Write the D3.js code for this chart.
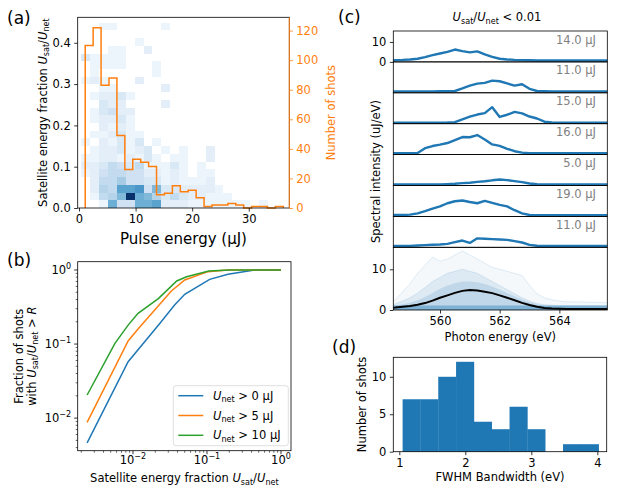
<!DOCTYPE html>
<html lang="en">
<head>
<meta charset="UTF-8" />
<title>Satellite energy fraction and spectra</title>
<script src="https://d3js.org/d3.v7.min.js"></script>
<style>
  body { margin: 0; background: #fff; }
  svg { display: block; }
  svg text { font-family: "DejaVu Sans", sans-serif; }
</style>
</head>
<body>
<svg id="fig" width="637" height="492"></svg>
<script>
// ---------- (a) pulse energy histogram + 2D histogram ----------
const shotEdges = [1.1, 2.5, 3.9, 5.3, 6.7, 8.1, 9.5, 10.9, 12.3, 13.7, 15.1, 16.5, 17.9,
  19.3, 20.7, 22.1, 23.5, 24.9, 26.3, 27.7, 29.1, 30.5, 31.9, 33.3, 34.7, 36.1];
const shotCounts = [110, 122, 83, 88, 49, 26, 33, 31, 28, 9, 10, 15, 11, 12, 7, 1, 2, 2, 3, 2, 0, 1, 1, 0, 1];

// 2D histogram cells: rows from bottom (U_sat/U_net bins), columns (pulse energy bins)
const heatX0 = 0.41, heatDX = 1.57, heatDY = 0.0187, heatMax = 20;
const heatCounts = [
  [0, 0, 1, 10, 4, 4, 10, 10, 11, 2, 2, 2, 1, 1, 1, 1, 1, 1, 1, 0, 1],
  [0, 1, 5, 6, 9, 20, 10, 9, 6, 3, 5, 3, 2, 2, 1, 1, 1],
  [0, 2, 6, 5, 11, 11, 12, 4, 9, 3, 3, 2, 2, 2, 2, 1],
  [0, 2, 5, 5, 7, 4, 4, 3, 3, 1, 2, 1, 1, 1, 2],
  [1, 2, 4, 5, 5, 4, 4, 2, 2, 1, 2, 1, 0, 1, 1],
  [2, 2, 3, 5, 4, 3, 5, 1, 1, 1, 3, 1, 0, 1],
  [1, 1, 2, 2, 1, 2, 1, 3, 1, 0, 1, 1, 0, 0, 2],
  [0, 1, 2, 2, 3, 1, 2, 3, 0, 1, 0, 1, 0, 0, 2],
  [1, 0, 2, 1, 3, 1, 3, 0, 1],
  [0, 1, 1, 2, 3, 1, 1],
  [0, 0, 2, 1, 2, 1],
  [0, 1, 2, 2, 3, 1],
  [0, 1, 3, 4, 2, 2],
  [0, 0, 3, 2, 2, 0, 0, 0, 0, 2],
  [0, 1, 2, 2, 3, 1],
  [0, 0, 1, 1, 0, 0, 0, 0, 0, 2],
  [1, 2, 1, 0, 0, 0, 2],
  [0, 1, 0, 0, 0, 0, 0, 0, 1],
  [0, 1, 1, 1, 1, 0, 0, 0, 1],
  [3, 1, 1, 1, 1],
  [0, 0, 0, 1, 1, 0, 0, 2],
  [0, 0, 0, 0, 0, 0, 1],
  [],
  [0, 0, 1, 1, 0, 0, 0, 0, 0, 1]
];
const ticksA = [0, 10, 20, 30];
const ticksAy = [0, 0.1, 0.2, 0.3, 0.4];
const ticksAy2 = [0, 20, 40, 60, 80, 100, 120];

// ---------- (b) cumulative fraction curves ----------
const fracAllR = [0.0024, 0.0086, 0.023, 0.0365, 0.05, 0.1086, 0.192, 0.44, 1.0];
const fracAll = [0.00464, 0.0577, 0.19, 0.336, 0.469, 0.748, 0.875, 1.0, 1.0];
const frac5R = [0.0024, 0.0086, 0.0117, 0.033, 0.05, 0.103, 0.19, 1.0];
const frac5 = [0.00875, 0.11, 0.16, 0.52, 0.733, 0.95, 1.0, 1.0];
const frac10R = [0.0024, 0.0057, 0.0086, 0.0117, 0.022, 0.039, 0.053, 0.106, 0.2, 1.0];
const frac10 = [0.0205, 0.102, 0.18, 0.26, 0.41, 0.71, 0.81, 0.97, 1.0, 1.0];
const legendNet = ["0", "5", "10"];
const majorsB = [0.01, 0.1, 1];

// ---------- (c) single-shot spectra ----------
const specE = [558.25, 558.5, 558.75, 559.0, 559.25, 559.5, 559.75, 560.0, 560.25, 560.5, 560.75,
  561.0, 561.25, 561.5, 561.75, 562.0, 562.25, 562.5, 562.75, 563.0, 563.25, 563.5, 563.75,
  564.0, 564.25, 564.5, 564.75, 565.0, 565.25, 565.5, 565.75];
const spec14 = [0.9, 0.9, 1.0, 1.2, 1.6, 2.4, 3.4, 4.2, 5.0, 6.2, 5.4, 4.8, 5.3, 3.8, 2.5, 1.6, 1.2, 1.0,
  0.9, 0.8, 0.7, 0.7, 0.7, 0.7, 0.7, 0.7, 0.7, 0.7, 0.7, 0.7, 0.7];
const spec11a = [0.7, 0.7, 0.7, 0.7, 0.7, 0.7, 0.7, 0.8, 0.8, 0.9, 2.2, 3.6, 4.6, 5.0, 6.1, 5.8, 4.7, 3.6,
  4.3, 2.0, 0.9, 0.8, 0.7, 0.7, 0.7, 0.7, 0.7, 0.7, 0.7, 0.7, 0.7];
const spec15 = [0.5, 0.5, 0.5, 0.5, 0.5, 0.5, 0.5, 0.5, 0.6, 0.8, 2.2, 3.5, 4.6, 5.3, 8.3, 3.4, 4.5, 5.9,
  5.2, 3.6, 2.6, 1.0, 0.6, 0.5, 0.5, 0.5, 0.5, 0.5, 0.5, 0.5, 0.5];
const spec16 = [0.7, 0.7, 0.7, 0.7, 0.8, 3.2, 4.3, 5.0, 5.8, 7.3, 8.8, 8.7, 9.8, 7.6, 5.1, 4.4, 2.9, 1.7,
  1.0, 0.7, 0.7, 0.7, 0.7, 0.7, 0.7, 0.7, 0.7, 0.7, 0.7, 0.7, 0.7];
const spec5 = [0.5, 0.5, 0.5, 0.5, 0.5, 0.5, 0.5, 0.5, 0.7, 0.9, 1.2, 1.4, 1.8, 2.1, 2.6, 3.0, 2.7, 2.2,
  1.7, 1.0, 0.6, 0.5, 0.5, 0.5, 0.5, 0.5, 0.5, 0.5, 0.5, 0.5, 0.5];
const spec19 = [0.7, 0.7, 0.7, 0.9, 1.5, 2.6, 3.9, 5.0, 6.6, 7.6, 8.0, 7.2, 6.6, 7.8, 6.8, 5.8, 5.0, 3.1,
  1.5, 0.7, 0.6, 0.6, 0.6, 0.6, 0.6, 0.6, 0.6, 0.6, 0.6, 0.6, 0.6];
const spec11b = [0.7, 0.7, 0.7, 0.7, 0.9, 1.1, 1.3, 1.4, 1.7, 2.6, 3.4, 2.2, 4.5, 4.3, 4.1, 3.9, 3.7, 3.1,
  2.4, 1.2, 0.8, 0.7, 0.7, 0.7, 0.7, 0.7, 0.7, 0.7, 0.7, 0.7, 0.7];
const specShots = [spec14, spec11a, spec15, spec16, spec5, spec19, spec11b];
const specLabels = ["14.0 μJ", "11.0 μJ", "15.0 μJ", "16.0 μJ", "5.0 μJ", "19.0 μJ", "11.0 μJ"];

// overlay of all shots: envelopes of the cloud and the mean spectrum
const cloudMax = [2.0, 2.5, 4.5, 6.5, 9.0, 11.0, 13.0, 12.0, 12.5, 13.5, 14.5, 13.5, 12.5, 11.5, 10.5,
  10.0, 9.5, 9.0, 8.5, 6.0, 4.0, 3.0, 2.5, 2.2, 2.0, 2.0, 2.0, 1.9, 1.9, 1.8, 1.8];
const cloudMid = [1.2, 1.5, 2.2, 3.0, 4.2, 5.5, 7.0, 8.0, 9.0, 9.5, 10.0, 9.5, 9.0, 8.0, 7.0, 6.0, 5.0,
  4.0, 3.0, 2.2, 1.6, 1.3, 1.2, 1.1, 1.1, 1.1, 1.1, 1.1, 1.1, 1.1, 1.1];
const cloudCore = [1.0, 1.1, 1.4, 1.8, 2.4, 3.2, 4.2, 5.2, 6.0, 6.6, 7.0, 7.0, 6.8, 6.4, 5.8, 5.0, 4.2,
  3.4, 2.6, 1.9, 1.4, 1.1, 1.0, 1.0, 1.0, 1.0, 1.0, 1.0, 1.0, 1.0, 1.0];
const specMean = [0.5, 0.6, 0.8, 1.0, 1.3, 1.7, 2.3, 3.0, 3.6, 4.2, 4.7, 4.9, 4.8, 4.5, 4.15, 3.6, 3.0,
  2.4, 1.75, 1.25, 0.8, 0.5, 0.35, 0.3, 0.25, 0.25, 0.25, 0.25, 0.25, 0.25, 0.25];
const ticksC = [560, 562, 564];

// ---------- (d) bandwidth histogram ----------
const bwEdges = [1.05, 1.32, 1.59, 1.86, 2.13, 2.40, 2.67, 2.94, 3.21, 3.48, 3.75, 4.02];
const bwCounts = [7, 7, 10, 12, 4, 3, 6, 3, 0, 1, 1];
const ticksD = [1, 2, 3, 4];
const ticksDy = [0, 5, 10];

// ---------- helpers ----------
const svg = d3.select("#fig");
const FS = 11.5;
const BLUE = "#1f77b4", ORANGE = "#ff7f0e", GREEN = "#2ca02c";
const uRatio = [{ t: "U", i: 1 }, { t: "sat", sub: 1 }, { t: "/" }, { t: "U", i: 1 }, { t: "net", sub: 1 }];

function rich(sel, parts, fs) {
  let off = 0;
  parts.forEach((p) => {
    const target = p.sub ? fs * 0.22 : p.sup ? -fs * 0.42 : 0;
    const ts = sel.append("tspan").attr("dy", target - off).text(p.t);
    off = target;
    if (p.i) ts.attr("font-style", "italic");
    if (p.sub || p.sup) ts.attr("font-size", fs * 0.7);
  });
}

function label(x, y, parts, o = {}) {
  const fs = o.fs || FS;
  const t = svg.append("text")
    .attr("font-size", fs)
    .attr("text-anchor", o.anchor || "middle")
    .attr("fill", o.color || "#000");
  if (o.rot) t.attr("transform", `translate(${x},${y}) rotate(${o.rot})`);
  else t.attr("x", x).attr("y", y);
  rich(t, typeof parts === "string" ? [{ t: parts }] : parts, fs);
  return t;
}

function axis(gen, tx, ty, color = "#000") {
  const g = svg.append("g").attr("transform", `translate(${tx},${ty})`)
    .call(gen.tickSize(3.5).tickPadding(3.5));
  g.select(".domain").remove();
  g.selectAll("line").attr("stroke", color).attr("stroke-width", 0.8);
  g.selectAll("text").attr("fill", color).attr("font-size", FS);
  return g;
}

function frame(x0, y0, x1, y1) {
  svg.append("rect").attr("x", x0).attr("y", y0)
    .attr("width", x1 - x0).attr("height", y1 - y0)
    .attr("fill", "none").attr("stroke", "#000").attr("stroke-width", 0.8);
}

// ================= panel (a) =================
const A = { l: 77.7, r: 289.3, t: 17.3, b: 208 };
const xA = d3.scaleLinear().domain([-0.23, 37.16]).range([A.l, A.r]);
const yA = d3.scaleLinear().domain([0, 0.4617]).range([A.b, A.t]);
const yA2 = d3.scaleLinear().domain([0, 129]).range([A.b, A.t]);

const cells = [];
heatCounts.forEach((row, r) => row.forEach((v, c) => { if (v > 0) cells.push({ r, c, v }); }));
svg.append("g").attr("shape-rendering", "crispEdges")
  .selectAll("rect").data(cells).join("rect")
  .attr("x", (d) => xA(heatX0 + d.c * heatDX))
  .attr("width", (d) => xA(heatX0 + (d.c + 1) * heatDX) - xA(heatX0 + d.c * heatDX))
  .attr("y", (d) => yA((d.r + 1) * heatDY))
  .attr("height", (d) => yA(d.r * heatDY) - yA((d.r + 1) * heatDY))
  .attr("fill", (d) => d3.interpolateBlues(d.v / heatMax));

const stepPts = [[shotEdges[0], 0]];
shotCounts.forEach((v, i) => { stepPts.push([shotEdges[i], v], [shotEdges[i + 1], v]); });
stepPts.push([shotEdges[shotEdges.length - 1], 0]);
svg.append("path").datum(stepPts)
  .attr("fill", "none").attr("stroke", ORANGE).attr("stroke-width", 1.5)
  .attr("d", d3.line().x((d) => xA(d[0])).y((d) => yA2(d[1])));

frame(A.l, A.t, A.r, A.b);
svg.append("line").attr("x1", A.r).attr("x2", A.r).attr("y1", A.t).attr("y2", A.b)
  .attr("stroke", ORANGE).attr("stroke-width", 1);
axis(d3.axisBottom(xA).tickValues(ticksA), 0, A.b);
axis(d3.axisLeft(yA).tickValues(ticksAy).tickFormat(d3.format(".1f")), A.l, 0);
axis(d3.axisRight(yA2).tickValues(ticksAy2), A.r, 0, ORANGE);

label(183.5, 243.5, "Pulse energy (μJ)", { fs: 15 });
label(46.5, (A.t + A.b) / 2, [{ t: "Satellite energy fraction " }, ...uRatio], { rot: -90 });
label(334.5, (A.t + A.b) / 2, "Number of shots", { rot: -90, color: ORANGE });

// ================= panel (b) =================
const B = { l: 77.7, r: 291, t: 261.7, b: 450.7 };
const xB = d3.scaleLog().domain([0.00179, 1.365]).range([B.l, B.r]);
const yB = d3.scaleLog().domain([0.00363, 1.294]).range([B.b, B.t]);

const lineB = d3.line().x((d) => xB(d[0])).y((d) => yB(d[1]));
[[fracAllR, fracAll, BLUE], [frac5R, frac5, ORANGE], [frac10R, frac10, GREEN]].forEach(([xs, ys, col]) => {
  svg.append("path").datum(xs.map((x, i) => [x, ys[i]]))
    .attr("fill", "none").attr("stroke", col).attr("stroke-width", 1.5)
    .attr("d", lineB);
});
frame(B.l, B.t, B.r, B.b);

const isMajor = (v) => majorsB.some((m) => Math.abs(v / m - 1) < 1e-6);
const minorX = xB.ticks().filter((v) => !isMajor(v));
const minorY = yB.ticks().filter((v) => !isMajor(v));
const gb = svg.append("g").attr("stroke", "#000");
gb.selectAll(".mx").data(minorX).join("line")
  .attr("x1", (d) => xB(d)).attr("x2", (d) => xB(d))
  .attr("y1", B.b).attr("y2", B.b + 2).attr("stroke-width", 0.6);
gb.selectAll(".my").data(minorY).join("line")
  .attr("y1", (d) => yB(d)).attr("y2", (d) => yB(d))
  .attr("x1", B.l).attr("x2", B.l - 2).attr("stroke-width", 0.6);
gb.selectAll(".Mx").data(majorsB).join("line")
  .attr("x1", (d) => xB(d)).attr("x2", (d) => xB(d))
  .attr("y1", B.b).attr("y2", B.b + 3.5).attr("stroke-width", 0.8);
gb.selectAll(".My").data(majorsB).join("line")
  .attr("y1", (d) => yB(d)).attr("y2", (d) => yB(d))
  .attr("x1", B.l).attr("x2", B.l - 3.5).attr("stroke-width", 0.8);
const expText = (v) => { const e = Math.round(Math.log10(v)); return e < 0 ? "−" + (-e) : String(e); };
majorsB.forEach((v) => {
  label(xB(v), B.b + 13, [{ t: "10" }, { t: expText(v), sup: 1 }]);
  label(B.l - 6.5, yB(v) + 4, [{ t: "10" }, { t: expText(v), sup: 1 }], { anchor: "end" });
});

// legend
svg.append("rect").attr("x", 173.3).attr("y", 385.7).attr("width", 115).attr("height", 60)
  .attr("rx", 2.5).attr("fill", "#fff").attr("fill-opacity", 0.8)
  .attr("stroke", "#d6d6d6").attr("stroke-width", 0.8);
[BLUE, ORANGE, GREEN].forEach((col, i) => {
  const y = 395.7 + i * 19.8;
  svg.append("line").attr("x1", 178.3).attr("x2", 203.3).attr("y1", y).attr("y2", y)
    .attr("stroke", col).attr("stroke-width", 1.5);
  label(213, y + 4, [{ t: "U", i: 1 }, { t: "net", sub: 1 }, { t: " > " + legendNet[i] + " μJ" }], { anchor: "start" });
});

label((B.l + B.r) / 2, 482, [{ t: "Satellite energy fraction " }, ...uRatio]);
label(23.3, (B.t + B.b) / 2, "Fraction of shots", { rot: -90 });
label(35.5, (B.t + B.b) / 2, [{ t: "with " }, ...uRatio, { t: " > " }, { t: "R", i: 1 }], { rot: -90 });

// ================= panel (c) =================
const Cl = 393.3, Cr = 607.3, cTop = 31, smallH = 30.9, bigH = 62.7;
const xC = d3.scaleLinear().domain([558.436, 565.605]).range([Cl, Cr]);
const defs = svg.append("defs");

specShots.forEach((vals, k) => {
  const top = cTop + k * smallH, bot = top + smallH;
  const yS = d3.scaleLinear().domain([0, 15.5]).range([bot, top]);
  defs.append("clipPath").attr("id", "clip" + k)
    .append("rect").attr("x", Cl).attr("y", top).attr("width", Cr - Cl).attr("height", smallH);
  svg.append("path").datum(vals).attr("clip-path", `url(#clip${k})`)
    .attr("fill", "none").attr("stroke", BLUE).attr("stroke-width", 2.4)
    .attr("stroke-linejoin", "round")
    .attr("d", d3.line().x((d, i) => xC(specE[i])).y((d) => yS(d)));
  frame(Cl, top, Cr, bot);
  label(596, top + 12.5, specLabels[k], { anchor: "end", color: "#808080" });
  if (k === 0) axis(d3.axisLeft(yS).tickValues([0, 10]), Cl, 0);
});

const bTop = cTop + 7 * smallH, bBot = bTop + bigH;
const yBig = d3.scaleLinear().domain([0, 15.4]).range([bBot, bTop]);
defs.append("clipPath").attr("id", "clipBig")
  .append("rect").attr("x", Cl).attr("y", bTop).attr("width", Cr - Cl).attr("height", bigH);
const gBig = svg.append("g").attr("clip-path", "url(#clipBig)");
const area = (vals) => d3.area().x((d, i) => xC(specE[i])).y0(yBig(0)).y1((d) => yBig(d))(vals);
gBig.append("path").attr("d", area(cloudMax)).attr("fill", BLUE).attr("fill-opacity", 0.05);
gBig.append("path").attr("d", area(cloudMid)).attr("fill", BLUE).attr("fill-opacity", 0.1);
gBig.append("path").attr("d", area(cloudCore)).attr("fill", BLUE).attr("fill-opacity", 0.16);
gBig.append("path").attr("d", area(cloudMax)).attr("fill", "none")
  .attr("stroke", BLUE).attr("stroke-opacity", 0.12).attr("stroke-width", 1);
gBig.append("path").attr("d", area(cloudMid)).attr("fill", "none")
  .attr("stroke", BLUE).attr("stroke-opacity", 0.12).attr("stroke-width", 1);
gBig.append("rect").attr("x", Cl).attr("width", Cr - Cl)
  .attr("y", yBig(1.1)).attr("height", yBig(0) - yBig(1.1))
  .attr("fill", BLUE).attr("fill-opacity", 0.4);
gBig.append("path").datum(specMean)
  .attr("fill", "none").attr("stroke", "#000").attr("stroke-width", 2)
  .attr("d", d3.line().x((d, i) => xC(specE[i])).y((d) => yBig(d)));
frame(Cl, bTop, Cr, bBot);
axis(d3.axisLeft(yBig).tickValues([0, 10]), Cl, 0);
axis(d3.axisBottom(xC).tickValues(ticksC), 0, bBot);

label(497, 21, [...uRatio, { t: " < 0.01" }]);
label((Cl + Cr) / 2, 341, "Photon energy (eV)");
label(380, 171.5, "Spectral intensity (uJ/eV)", { rot: -90 });

// ================= panel (d) =================
const D = { l: 393.3, r: 606.7, t: 357.3, b: 451.7 };
const xD = d3.scaleLinear().domain([0.909, 4.142]).range([D.l, D.r]);
const yD = d3.scaleLinear().domain([0, 12.6]).range([D.b, D.t]);
svg.append("g").selectAll("rect").data(bwCounts).join("rect")
  .attr("x", (d, i) => xD(bwEdges[i]))
  .attr("width", (d, i) => xD(bwEdges[i + 1]) - xD(bwEdges[i]) + 0.3)
  .attr("y", (d) => yD(d))
  .attr("height", (d) => yD(0) - yD(d))
  .attr("fill", BLUE);
frame(D.l, D.t, D.r, D.b);
axis(d3.axisBottom(xD).tickValues(ticksD).tickFormat(d3.format("d")), 0, D.b);
axis(d3.axisLeft(yD).tickValues(ticksDy), D.l, 0);
label((D.l + D.r) / 2, 481, "FWHM Bandwidth (eV)");
label(366, (D.t + D.b) / 2, "Number of shots", { rot: -90 });

// ---------- panel letters ----------
label(7, 24, "(a)", { fs: 17, anchor: "start" });
label(7, 266, "(b)", { fs: 17, anchor: "start" });
label(338, 22.5, "(c)", { fs: 17, anchor: "start" });
label(332, 352.5, "(d)", { fs: 17, anchor: "start" });
</script>
</body>
</html>
